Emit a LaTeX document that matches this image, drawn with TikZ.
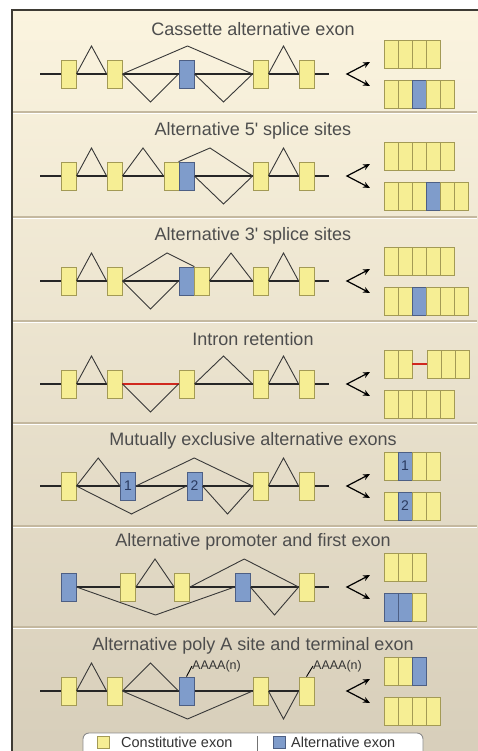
\documentclass[tikz,border=0pt]{standalone}
\usepackage{fontspec}
\setmainfont{Liberation Sans}
\usetikzlibrary{positioning, calc, arrows.meta}

\definecolor{exony}{HTML}{F6EE94}
\definecolor{exonyd}{HTML}{A39A55}
\definecolor{exonb}{HTML}{7F9CCB}
\definecolor{exonbd}{HTML}{4D5F84}
\definecolor{paneltop}{HTML}{FBF4DF}
\definecolor{panelbot}{HTML}{D7CEBA}
\definecolor{framec}{HTML}{3E3B34}
\definecolor{sepc}{HTML}{C4B89F}
\definecolor{titlec}{HTML}{4D4D4D}
\definecolor{intronred}{HTML}{D0281E}
\definecolor{numc}{HTML}{2A3A60}

\tikzset{
  exonY/.style={draw=exonyd, fill=exony, line width=0.8pt, minimum width=15pt, minimum height=28pt, inner sep=0pt},
  exonB/.style={exonY, draw=exonbd, fill=exonb},
  segY/.style={exonY, minimum width=14pt},
  segB/.style={exonB, minimum width=14pt},
  gene/.style={line width=2.3pt, draw=black!85},
  splice/.style={line width=0.9pt, draw=black!78},
  title/.style={font=\fontsize{18}{20}\selectfont, text=titlec},
  numlab/.style={font=\fontsize{14}{14}\selectfont, text=numc, inner sep=0pt},
  polya/.style={font=\fontsize{12.5}{13}\selectfont, text=black!80, inner sep=0pt},
  legtext/.style={font=\fontsize{14.5}{16}\selectfont, text=black!80, inner sep=0pt},
  sepline/.style={draw=sepc, line width=1.1pt},
  fork/.style={line width=1.2pt, {Stealth[length=7pt,width=6pt]}-{Stealth[length=7pt,width=6pt]}},
}

% splice junction between two exons, apex raised (-) or lowered (+)
\newcommand\junc[3]{\draw[splice] (#1) -- ($(#1)!0.5!(#2)+(0,#3)$) -- (#2);}
% spliced mRNA: name, left edge, centre height, segments
\newcommand\mrna[4]{\foreach \s [count=\i] in {#4} \node[seg\s] (#1\i) at (#2-7+14*\i,#3) {};}

\begin{document}
\begin{tikzpicture}[x=1pt, y=-1pt]
\useasboundingbox (0,0) rectangle (477,751);
\fill[white] (0,0) rectangle (477,751);

% background and frame
\shade[top color=paneltop, bottom color=panelbot] (12,10) rectangle (480,760);
\foreach \y in {112,217,321,423,526,627} {
  \draw[sepline] (13,\y) -- (477,\y);
  \draw[white, line width=0.8pt] (13,\y+1.3) -- (477,\y+1.3);
}
\draw[framec, line width=2.6pt] (12,760) -- (12,10) -- (480,10);

% gene lines and forks
\foreach \L [count=\k] in {74,176,281,384,486,587,691} {
  \coordinate (s\k) at (40,\L);
  \coordinate (f\k) at (329,\L);
  \coordinate (v\k) at (347,\L);
  \draw[fork] ($(v\k)+(23,-12)$) -- (v\k) -- ($(v\k)+(23,12)$);
}
\coordinate (s6) at (76,587);
\coordinate (f7) at (299,691);
\foreach \k in {1,...,7} \draw[gene] (s\k) -- (f\k);

% titles
\node[title] (t1) at (253,29) {Cassette alternative exon};
\node[title] (t2) at (253,131) {Alternative 5\textquotesingle{} splice sites};
\node[title] (t3) at (253,236) {Alternative 3\textquotesingle{} splice sites};
\node[title] (t4) at (253,339) {Intron retention};
\node[title] (t5) at (253,441) {Mutually exclusive alternative exons};
\node[title] (t6) at (253,542) {Alternative promoter and first exon};
\node[title] (t7) at (253,646) {Alternative poly A site and terminal exon};

% cassette exon
\node[exonY] (p1e1) at (68.5,74) {};
\node[exonY] (p1e2) at (114.5,74) {};
\node[exonB] (p1e3) at (186.5,74) {};
\node[exonY] (p1e4) at (260.5,74) {};
\node[exonY] (p1e5) at (306.5,74) {};
\junc{p1e1.east}{p1e2.west}{-28}
\junc{p1e2.east}{p1e4.west}{-28}
\junc{p1e2.east}{p1e3.west}{28}
\junc{p1e3.east}{p1e4.west}{28}
\junc{p1e4.east}{p1e5.west}{-28}
\mrna{p1a}{384}{54}{Y,Y,Y,Y}
\mrna{p1b}{384}{94}{Y,Y,B,Y,Y}

% 5' sites
\node[exonY] (p2e1) at (68.5,176) {};
\node[exonY] (p2e2) at (114.5,176) {};
\node[exonY] (p2e3) at (171.5,176) {};
\node[exonB] (p2e4) at (186.5,176) {};
\node[exonY] (p2e5) at (260.5,176) {};
\node[exonY] (p2e6) at (306.5,176) {};
\junc{p2e1.east}{p2e2.west}{-28}
\junc{p2e2.east}{p2e3.west}{-28}
\draw[splice] (p2e4.north west) -- (210,148) -- (p2e5.west);
\junc{p2e4.east}{p2e5.west}{28}
\junc{p2e5.east}{p2e6.west}{-28}
\mrna{p2a}{384}{156}{Y,Y,Y,Y,Y}
\mrna{p2b}{384}{196}{Y,Y,Y,B,Y,Y}

% 3' sites
\node[exonY] (p3e1) at (68.5,281) {};
\node[exonY] (p3e2) at (114.5,281) {};
\node[exonB] (p3e3) at (186.5,281) {};
\node[exonY] (p3e4) at (201.5,281) {};
\node[exonY] (p3e5) at (260.5,281) {};
\node[exonY] (p3e6) at (306.5,281) {};
\junc{p3e1.east}{p3e2.west}{-28}
\draw[splice] (p3e2.east) -- (167,253) -- (p3e3.north east);
\junc{p3e2.east}{p3e3.west}{28}
\junc{p3e4.east}{p3e5.west}{-28}
\junc{p3e5.east}{p3e6.west}{-28}
\mrna{p3a}{384}{261}{Y,Y,Y,Y,Y}
\mrna{p3b}{384}{301}{Y,Y,B,Y,Y,Y}

% intron retention
\node[exonY] (p4e1) at (68.5,384) {};
\node[exonY] (p4e2) at (114.5,384) {};
\node[exonY] (p4e3) at (186.5,384) {};
\node[exonY] (p4e4) at (260.5,384) {};
\node[exonY] (p4e5) at (306.5,384) {};
\draw[intronred, line width=2.8pt] (p4e2.east) -- (p4e3.west);
\junc{p4e1.east}{p4e2.west}{-28}
\junc{p4e2.east}{p4e3.west}{28}
\junc{p4e3.east}{p4e4.west}{-28}
\junc{p4e4.east}{p4e5.west}{-28}
\mrna{p4a}{384}{364}{Y,Y}
\mrna{p4c}{427}{364}{Y,Y,Y}
\draw[intronred, line width=2.8pt] (p4a2.east) -- (p4c1.west);
\mrna{p4b}{384}{404}{Y,Y,Y,Y,Y}

% mutually exclusive
\node[exonY] (p5e1) at (68.5,486) {};
\node[exonB, numlab, inner sep=0pt] (p5e2) at (128,486) {1};
\node[exonB, numlab, inner sep=0pt] (p5e3) at (194.5,486) {2};
\node[exonY] (p5e4) at (260.5,486) {};
\node[exonY] (p5e5) at (306.5,486) {};
\junc{p5e1.east}{p5e2.west}{-28}
\junc{p5e2.east}{p5e4.west}{-28}
\junc{p5e1.east}{p5e3.west}{28}
\junc{p5e3.east}{p5e4.west}{28}
\junc{p5e4.east}{p5e5.west}{-28}
\mrna{p5a}{384}{466}{Y,B,Y,Y}
\mrna{p5b}{384}{506}{Y,B,Y,Y}
\node[numlab] (p5n1) at (p5a2) {1};
\node[numlab] (p5n2) at (p5b2) {2};

% promoter and first exon
\node[exonB] (p6e1) at (68.5,587) {};
\node[exonY] (p6e2) at (128,587) {};
\node[exonY] (p6e3) at (182,587) {};
\node[exonB] (p6e4) at (242.5,587) {};
\node[exonY] (p6e5) at (306.5,587) {};
\junc{p6e2.east}{p6e3.west}{-28}
\junc{p6e3.east}{p6e5.west}{-28}
\junc{p6e1.east}{p6e4.west}{28}
\junc{p6e4.east}{p6e5.west}{28}
\mrna{p6a}{384}{567}{Y,Y,Y}
\mrna{p6b}{384}{607}{B,B,Y}

% poly A and terminal exon
\node[exonY] (p7e1) at (68.5,691) {};
\node[exonY] (p7e2) at (114.5,691) {};
\node[exonB] (p7e3) at (186.5,691) {};
\node[exonY] (p7e4) at (260.5,691) {};
\node[exonY] (p7e5) at (306.5,691) {};
\junc{p7e1.east}{p7e2.west}{-28}
\junc{p7e2.east}{p7e3.west}{-28}
\junc{p7e2.east}{p7e4.west}{28}
\junc{p7e4.east}{p7e5.west}{28}
\node[polya, anchor=west] (p7pa) at (192,666) {AAAA(n)};
\node[polya, anchor=west] (p7pb) at (313,666) {AAAA(n)};
\draw[line width=0.9pt] (p7e3.north) -- (p7pa.west);
\draw[line width=0.9pt] (p7e5.north) -- (p7pb.west);
\mrna{p7a}{384}{671}{Y,Y,B}
\mrna{p7b}{384}{711}{Y,Y,Y,Y}

% legend
\draw[fill=white, draw=black!45, line width=0.9pt, rounded corners=6pt] (83,775) rectangle (423,733);
\node[segY, minimum width=12pt, minimum height=12pt] (lgc) at (103,742) {};
\node[legtext, anchor=west] (lgct) at (121,742) {Constitutive exon};
\draw[black!55, line width=0.8pt] (257,736) -- (257,751);
\node[segB, minimum width=12pt, minimum height=12pt] (lga) at (279.5,742) {};
\node[legtext, anchor=west] (lgat) at (291,742) {Alternative exon};
\end{tikzpicture}
\end{document}
